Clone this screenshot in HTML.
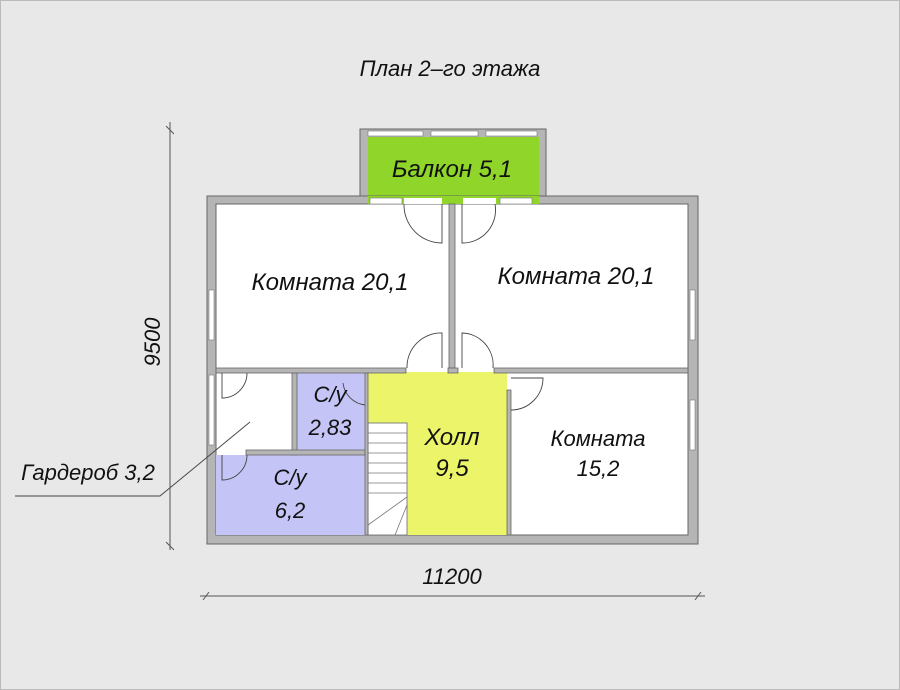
<!DOCTYPE html>
<html><head><meta charset="utf-8"><style>
html,body{margin:0;padding:0;background:#e8e8e8}
svg{display:block}
text{font-family:"Liberation Sans","DejaVu Sans",sans-serif;font-style:italic;fill:#111}
</style></head><body>
<svg width="900" height="690" viewBox="0 0 900 690" xmlns="http://www.w3.org/2000/svg">
<rect x="0" y="0" width="900" height="690" fill="#e8e8e8"/>
<rect x="0.5" y="0.5" width="899" height="689" fill="none" stroke="#bbb"/>
<text x="450" y="76" font-size="22" text-anchor="middle">План 2–го этажа</text>
<!-- balcony -->
<rect x="360" y="129" width="186" height="75" fill="#b5b5b5" stroke="#666"/>
<rect x="368" y="137" width="171" height="62" fill="#8fd52a"/>
<rect x="368" y="131" width="55" height="5" fill="#fff" stroke="#777" stroke-width="0.6"/>
<rect x="431" y="131" width="47" height="5" fill="#fff" stroke="#777" stroke-width="0.6"/>
<rect x="486" y="131" width="51" height="5" fill="#fff" stroke="#777" stroke-width="0.6"/>
<!-- main walls -->
<rect x="207" y="196" width="491" height="348" fill="#b5b5b5" stroke="#666"/>
<rect x="216" y="204" width="472" height="331" fill="#fff" stroke="#666"/>
<rect x="368" y="196" width="171" height="8" fill="#8fd52a"/>
<rect x="370" y="198" width="32" height="6" fill="#fff" stroke="#777" stroke-width="0.6"/>
<rect x="500" y="198" width="32" height="6" fill="#fff" stroke="#777" stroke-width="0.6"/>
<rect x="404" y="198" width="38" height="6" fill="#fff"/>
<rect x="463" y="198" width="33" height="6" fill="#fff"/>
<!-- windows left/right -->
<rect x="209" y="290" width="5" height="50" fill="#fff" stroke="#777" stroke-width="0.6"/>
<rect x="209" y="375" width="5" height="70" fill="#fff" stroke="#777" stroke-width="0.6"/>
<rect x="690" y="290" width="5" height="50" fill="#fff" stroke="#777" stroke-width="0.6"/>
<rect x="690" y="400" width="5" height="50" fill="#fff" stroke="#777" stroke-width="0.6"/>
<!-- colored rooms -->
<rect x="297" y="373" width="68" height="78" fill="#c4c4f6"/>
<rect x="216" y="455" width="149" height="80" fill="#c4c4f6"/>
<rect x="368" y="372" width="139" height="163" fill="#ecf56a"/>
<!-- stairs -->
<rect x="368" y="423" width="39" height="112" fill="#fff" stroke="#666" stroke-width="0.8"/>
<g stroke="#777" stroke-width="0.8">
<line x1="368" y1="433" x2="407" y2="433"/><line x1="368" y1="443" x2="407" y2="443"/><line x1="368" y1="453" x2="407" y2="453"/><line x1="368" y1="463" x2="407" y2="463"/><line x1="368" y1="473" x2="407" y2="473"/><line x1="368" y1="483" x2="407" y2="483"/><line x1="368" y1="493" x2="407" y2="493"/>
<line x1="368" y1="525" x2="407" y2="497"/><line x1="395" y1="535" x2="407" y2="505"/>
</g>
<!-- interior walls -->
<g fill="#b5b5b5" stroke="#666" stroke-width="0.8">
<rect x="449" y="204" width="6" height="164"/>
<rect x="216" y="368" width="190" height="5"/>
<rect x="448" y="368" width="10" height="5"/>
<rect x="494" y="368" width="194" height="5"/>
<rect x="292" y="373" width="5" height="82"/>
<rect x="246" y="450" width="119" height="5"/>
<rect x="365" y="373" width="3" height="162"/>
<rect x="507" y="390" width="4" height="145"/>
</g>
<!-- doors -->
<g fill="none" stroke="#444" stroke-width="0.9">
<path d="M442 204 V243 A38 38 0 0 1 404 204"/>
<path d="M462 204 V243 A33 33 0 0 0 495 204"/>
<path d="M442 368 V333 A34 34 0 0 0 407 368"/>
<path d="M462 368 V333 A32 32 0 0 1 493 368"/>
<path d="M222 373 V398 A25 25 0 0 0 247 373"/>
<path d="M222 455 V480 A25 25 0 0 0 247 455"/>
<path d="M511 378 H543 A32 32 0 0 1 511 410"/>
<path d="M365 405 A25 25 0 0 1 343 383"/>
<polyline points="15,496 160,496 250,422"/>
</g>
<!-- dimensions -->
<g stroke="#555" stroke-width="1">
<line x1="170" y1="122" x2="170" y2="550"/><line x1="166" y1="542" x2="174" y2="550"/><line x1="166" y1="126" x2="174" y2="134"/>
<line x1="200" y1="596" x2="705" y2="596"/><line x1="203" y1="600" x2="209" y2="592"/><line x1="695" y1="600" x2="701" y2="592"/>
</g>
<text x="452" y="177" font-size="24" text-anchor="middle">Балкон 5,1</text>
<text x="330" y="290" font-size="24" text-anchor="middle">Комната 20,1</text>
<text x="576" y="284" font-size="24" text-anchor="middle">Комната 20,1</text>
<text x="598" y="446" font-size="22" text-anchor="middle">Комната</text>
<text x="598" y="476" font-size="22" text-anchor="middle">15,2</text>
<text x="452" y="445" font-size="24" text-anchor="middle">Холл</text>
<text x="452" y="476" font-size="24" text-anchor="middle">9,5</text>
<text x="330" y="402" font-size="22" text-anchor="middle">С/у</text>
<text x="330" y="435" font-size="22" text-anchor="middle">2,83</text>
<text x="290" y="485" font-size="22" text-anchor="middle">С/у</text>
<text x="290" y="518" font-size="22" text-anchor="middle">6,2</text>
<text x="88" y="480" font-size="22" text-anchor="middle">Гардероб 3,2</text>
<text x="452" y="584" font-size="22" text-anchor="middle">11200</text>
<text x="160" y="342" font-size="22" text-anchor="middle" transform="rotate(-90 160 342)">9500</text>
</svg>
</body></html>
